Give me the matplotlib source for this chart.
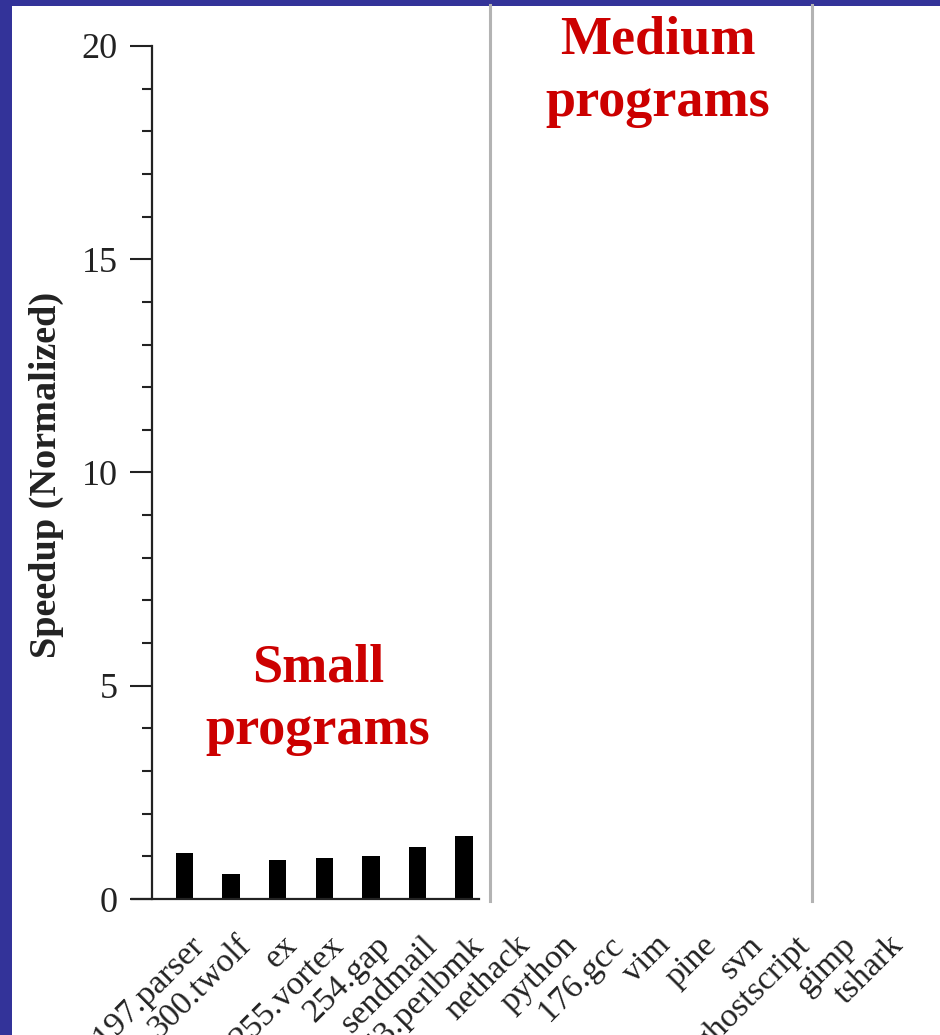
import matplotlib
matplotlib.use("Agg")
import matplotlib.pyplot as plt
from matplotlib.patches import Rectangle
from matplotlib.ticker import MultipleLocator
from matplotlib.lines import Line2D
import matplotlib.transforms as mtransforms

# Benchmarks, grouped by program size
programs = ["197.parser", "300.twolf", "ex", "255.vortex", "254.gap", "sendmail",
            "253.perlbmk", "nethack", "python", "176.gcc", "vim", "pine", "svn",
            "ghostscript", "gimp", "tshark"]
small_speedup = [1.09, 0.59, 0.905, 0.95, 1.0, 1.23, 1.47]
group_bounds = [6.56, 13.47]
yticks = [0, 5, 10, 15, 20]

W, H = 940, 1035
fig = plt.figure(figsize=(W / 100, H / 100), dpi=100, facecolor="#333399")
fig.patches.append(Rectangle((12 / W, 0), 1, (H - 6) / H, transform=fig.transFigure,
                             facecolor="white", edgecolor="none", zorder=-10))

serif = ["Liberation Serif", "DejaVu Serif"]
plt.rcParams["font.family"] = serif

ax_left, ax_bottom, ax_top = 152, 899, 46
ax = fig.add_axes([ax_left / W, (H - ax_bottom) / H, (W - ax_left) / W,
                   (ax_bottom - ax_top) / H])
ax.patch.set_alpha(0)

step = 46.6
x0 = -(184.5 - ax_left) / step
x1 = x0 + (W - ax_left) / step
ax.set_xlim(x0, x1)
ax.set_ylim(0, 20)

ax.bar(range(len(small_speedup)), small_speedup, width=0.37, color="black", zorder=3)

for s in ["top", "right", "bottom"]:
    ax.spines[s].set_visible(False)
ax.spines["left"].set_color("#222222")
ax.spines["left"].set_linewidth(1.6)

# baseline only under the small-program group
xl0 = x0 - 20 / step
xl1 = (479 - 184.5) / step
ax.add_line(Line2D([xl0, xl1], [0, 0], color="#222222", lw=1.6, clip_on=False, zorder=4))

# group separators
for b in group_bounds:
    ax.add_line(Line2D([b, b], [-0.05, 20.95], color="#b3b3b3", lw=2.2, clip_on=False, zorder=1))

ax.set_yticks(yticks)
ax.yaxis.set_minor_locator(MultipleLocator(1))
ax.tick_params(axis="y", which="major", length=15.5, width=1.5, color="#222222",
               labelsize=26, pad=9, labelcolor="#222222")
ax.tick_params(axis="y", which="minor", length=7, width=1.5, color="#222222")

ax.set_xticks(range(len(programs)))
ax.set_xticklabels(programs, rotation=45, rotation_mode="anchor", ha="right", va="top",
                   fontsize=24.5, color="#222222")
ax.tick_params(axis="x", length=0, pad=0)
offset = mtransforms.ScaledTranslation(4 / 100, -31 / 100, fig.dpi_scale_trans)
for lbl in ax.get_xticklabels():
    lbl.set_transform(lbl.get_transform() + offset)

ax.set_ylabel("Speedup (Normalized)", fontsize=27.5, fontweight="bold", color="#222222")
ax.yaxis.set_label_coords(-88 / (W - ax_left), 0.497)

red = "#cc0000"
ax.text(2.86, (899 - 700) / 42.65, "Small\nprograms", ha="center", va="center", fontsize=39,
        fontweight="bold", color=red, linespacing=1.32)
ax.text(10.15, (899 - 72) / 42.65, "Medium\nprograms", ha="center", va="center", fontsize=39,
        fontweight="bold", color=red, linespacing=1.32)

fig.savefig("out.png", dpi=100, facecolor=fig.get_facecolor())
